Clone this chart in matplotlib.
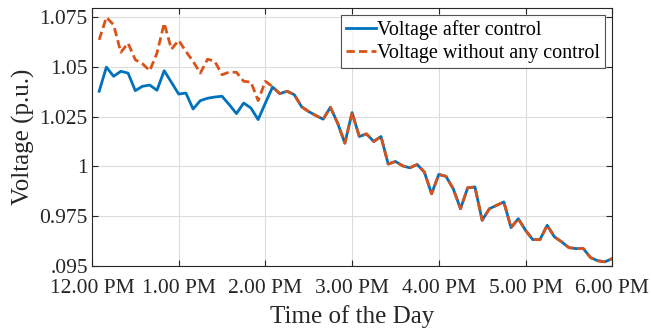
import matplotlib
matplotlib.use("Agg")
import matplotlib.pyplot as plt
from matplotlib.ticker import FixedLocator


# time of each sample, minutes after 12:00 PM (5 min steps)
time_min = list(range(5, 365, 5))

v_control = [
    1.0377, 1.0498, 1.0452, 1.0477, 1.0468, 1.0380, 1.0402, 1.0408, 1.0382, 1.0480,
    1.0422, 1.0363, 1.0368, 1.0288, 1.0330, 1.0342, 1.0348, 1.0352, 1.0310, 1.0265,
    1.0318, 1.0293, 1.0235, 1.0318, 1.0398, 1.0365, 1.0377, 1.0360, 1.0300, 1.0275,
    1.0255, 1.0237, 1.0297, 1.0217, 1.0117, 1.0270, 1.0150, 1.0163, 1.0125, 1.0150,
    1.0012, 1.0025, 1.0003, 0.9993, 1.0010, 0.9972, 0.9863, 0.9960, 0.9950, 0.9888,
    0.9788, 0.9893, 0.9897, 0.9730, 0.9788, 0.9805, 0.9822, 0.9693, 0.9738, 0.9680,
    0.9633, 0.9633, 0.9705, 0.9647, 0.9622, 0.9593, 0.9588, 0.9588, 0.9543, 0.9527,
    0.9522, 0.9538,
]

v_no_control = [
    1.0635, 1.0748, 1.0710, 1.0572, 1.0618, 1.0535, 1.0515, 1.0480, 1.0568, 1.0718,
    1.0588, 1.0632, 1.0577, 1.0527, 1.0468, 1.0538, 1.0527, 1.0460, 1.0473, 1.0472,
    1.0427, 1.0423, 1.0330, 1.0427, 1.0400, 1.0365, 1.0377, 1.0360, 1.0300, 1.0275,
    1.0255, 1.0237, 1.0297, 1.0217, 1.0117, 1.0270, 1.0150, 1.0163, 1.0125, 1.0150,
    1.0012, 1.0025, 1.0003, 0.9993, 1.0010, 0.9972, 0.9863, 0.9960, 0.9950, 0.9888,
    0.9788, 0.9893, 0.9897, 0.9730, 0.9788, 0.9805, 0.9822, 0.9693, 0.9738, 0.9680,
    0.9633, 0.9633, 0.9705, 0.9647, 0.9622, 0.9593, 0.9588, 0.9588, 0.9543, 0.9527,
    0.9522, 0.9538,
]

x_ticks = [0, 60, 120, 180, 240, 300, 360]
x_labels = ["12.00 PM", "1.00 PM", "2.00 PM", "3.00 PM", "4.00 PM", "5.00 PM", "6.00 PM"]
y_ticks = [0.95, 0.975, 1.0, 1.025, 1.05, 1.075]
y_labels = [".095", "0.975", "1", "1.025", "1.05", "1.075"]

plt.rcParams["font.family"] = ["Liberation Serif", "DejaVu Serif"]

fig = plt.figure(figsize=(6.52, 3.29), dpi=100)
ax = fig.add_axes([0.141, 0.191, 0.798, 0.785])

ax.plot(time_min, v_control, color="#0072BD", linewidth=2.0,
        label="Voltage after control")
ax.plot(time_min, v_no_control, color="#D95319", linewidth=2.0,
        linestyle=(0, (3.0, 1.5)), label="Voltage without any control")

ax.set_xlim(0, 360)
ax.set_ylim(0.95, 1.0795)
ax.xaxis.set_major_locator(FixedLocator(x_ticks))
ax.set_xticklabels(x_labels)
ax.yaxis.set_major_locator(FixedLocator(y_ticks))
ax.set_yticklabels(y_labels)

ax.grid(True, color="#dcdcdc", linewidth=0.8)
ax.set_axisbelow(True)
ax.tick_params(direction="in", top=True, right=True, length=4,
               labelsize=15.5, color="#262626", labelcolor="#262626")
ax.tick_params(axis="x", pad=9.5)
ax.tick_params(axis="y", pad=3)
for s in ax.spines.values():
    s.set_color("#262626")
    s.set_linewidth(0.8)

ax.set_xlabel("Time of the Day", fontsize=18, color="#262626", labelpad=5)
ax.set_ylabel("Voltage (p.u.)", fontsize=18, color="#262626", labelpad=3)

leg = ax.legend(loc="upper right", fontsize=14.5, frameon=True, fancybox=False,
                borderpad=0.25, handlelength=1.5, handletextpad=0.05,
                labelspacing=0.2, borderaxespad=0.35)
leg.get_frame().set_edgecolor("#262626")
leg.get_frame().set_linewidth(0.8)

fig.savefig("out.png", dpi=100)
